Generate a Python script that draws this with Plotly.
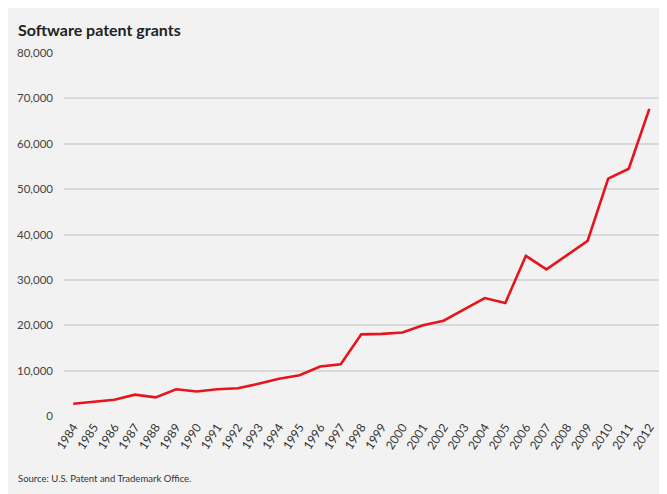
import plotly.graph_objects as go

years = list(range(1984, 2013))
grants = [2700, 3200, 3600, 4700, 4100, 5900, 5400, 5900, 6100, 7100,
          8200, 9000, 10900, 11400, 18000, 18100, 18400, 20000, 21000, 23500,
          26000, 24900, 35300, 32300, 35400, 38600, 52300, 54500, 67700]
y_ticks = [0, 10000, 20000, 30000, 40000, 50000, 60000, 70000, 80000]
y_tick_labels = ["0", "10,000", "20,000", "30,000", "40,000", "50,000", "60,000", "70,000", "80,000"]
title_text = "Software patent grants"
source_text = "Source: U.S. Patent and Trademark Office."

# page body has an 8px margin, so the figure is drawn 8px in from top/left
OFF = 8
W, H = 667 - OFF, 494 - OFF
ml, mr, mt, mb = 64 - OFF, 8, 53 - OFF, 78
pw = W - ml - mr
ph = H - mt - mb

fig = go.Figure()
fig.add_trace(go.Scatter(
    x=years, y=grants, mode="lines",
    line=dict(color="#e8141b", width=2.6),
    hoverinfo="skip", showlegend=False,
))

def px_x(p):
    return (p - OFF - ml) / pw

def px_y(p):
    return (H - mb - (p - OFF)) / ph

fig.add_annotation(text="<b>" + title_text + "</b>", xref="paper", yref="paper",
                   x=px_x(16), y=px_y(41), xanchor="left", yanchor="bottom",
                   showarrow=False, font=dict(family="Lato", size=16, color="#222222"))
fig.add_annotation(text=source_text, xref="paper", yref="paper",
                   x=px_x(16), y=px_y(478), xanchor="left", yanchor="middle",
                   showarrow=False, font=dict(family="Lato", size=9.5, color="#333333"))

fig.update_layout(
    width=W, height=H,
    margin=dict(l=ml, r=mr, t=mt, b=mb, autoexpand=False),
    paper_bgcolor="#f2f2f2",
    plot_bgcolor="#f2f2f2",
    font=dict(family="Lato", color="#444444"),
)
fig.update_xaxes(
    range=[1983.55, 2012.47],
    tickmode="array", tickvals=years, ticktext=[str(y) for y in years],
    tickangle=-57, showgrid=False, zeroline=False, showline=False,
    ticks="", tickfont=dict(size=12, color="#333333"), ticklabelstandoff=1,
    automargin=False,
)
fig.update_yaxes(
    range=[0, 80000],
    tickmode="array", tickvals=y_ticks, ticktext=y_tick_labels,
    showgrid=True, gridcolor="#d9d9d9", gridwidth=1.5,
    zeroline=False, showline=False, ticks="",
    tickfont=dict(size=11.5, color="#444444"), ticklabelstandoff=10,
    automargin=False,
)

fig.write_html("out.html")
